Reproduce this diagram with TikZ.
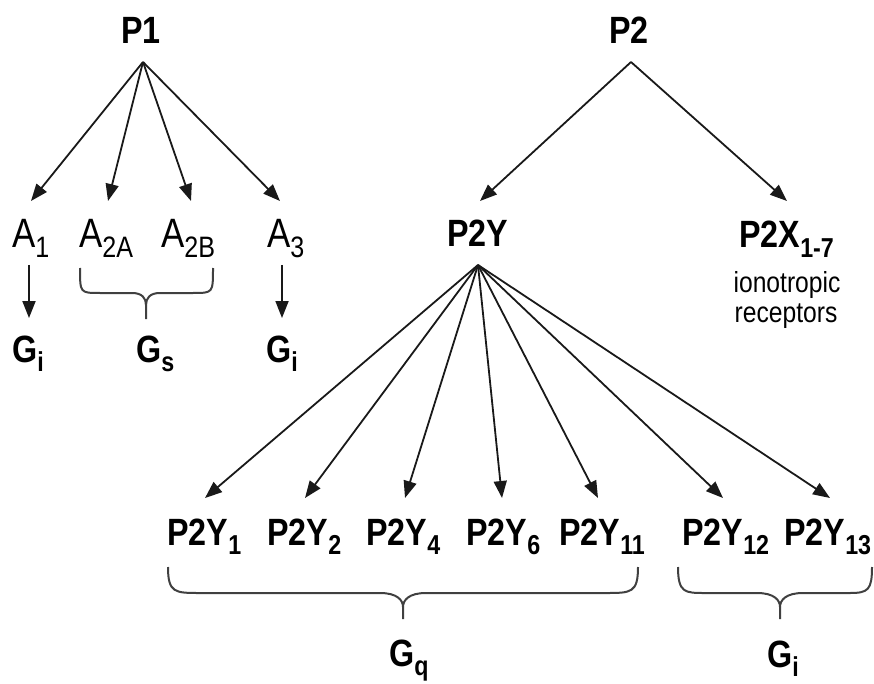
\documentclass[tikz,border=0pt]{standalone}
\usepackage{fontspec}
\setmainfont{Liberation Sans}[FakeStretch=0.85]
\usetikzlibrary{arrows.meta}
\newcommand\sbs[1]{\raisebox{-0.24em}{\scalebox{0.72}{#1}}}
\tikzset{
  arr/.style={draw=black!90, line width=1.8pt, -{Triangle[length=17pt,width=13pt]}},
  brc/.style={draw=black!75, line width=2pt},
  lbl/.style={anchor=base west, inner sep=0pt},
  big/.style={lbl, font=\fontsize{38}{44}\selectfont\bfseries},
  alab/.style={lbl, font=\fontsize{41}{46}\selectfont},
  ylab/.style={lbl, font=\fontsize{38}{44}\selectfont\bfseries},
  glab/.style={lbl, font=\fontsize{38}{44}\selectfont\bfseries},
  small/.style={anchor=base, inner sep=0pt, font=\fontsize{29}{32}\selectfont}
}
\begin{document}
\begin{tikzpicture}[x=1pt, y=-1pt]
\useasboundingbox (0,0) rectangle (874,684);
% top level
\node[big] (P1) at (121,44) {P1};
\node[big] (P2) at (609,44) {P2};
\coordinate (p1apex) at (143,62);
\coordinate (p2apex) at (631,62);
% A receptors
\node[alab] (A1) at (12,248) {A\sbs{1}};
\node[alab] (A2A) at (79,248) {A\sbs{2A}};
\node[alab] (A2B) at (161,248) {A\sbs{2B}};
\node[alab] (A3) at (267,248) {A\sbs{3}};
\coordinate (a1t) at (31,201);
\coordinate (a2at) at (108,201);
\coordinate (a2bt) at (191,201);
\coordinate (a3t) at (280,201);
\draw[arr] (p1apex) -- (a1t);
\draw[arr] (p1apex) -- (a2at);
\draw[arr] (p1apex) -- (a2bt);
\draw[arr] (p1apex) -- (a3t);
% G for A
\node[glab] (G1) at (12,362) {G\sbs{i}};
\node[glab] (Gs) at (136,362) {G\sbs{s}};
\node[glab] (G3) at (266,362) {G\sbs{i}};
\coordinate (a1s) at (29,265);
\coordinate (g1t) at (29,318);
\coordinate (a3s) at (282,265);
\coordinate (g3t) at (282,318);
\draw[arr] (a1s) -- (g1t);
\draw[arr] (a3s) -- (g3t);
\draw[brc] (80,268) .. controls (80,293) and (80,293) .. (100,293) -- (132,293)
  .. controls (142,293) and (146,298) .. (146,305) -- (146,319);
\draw[brc] (146,305) .. controls (146,298) and (150,293) .. (160,293) -- (193,293)
  .. controls (213,293) and (213,293) .. (213,268);
% P2 branch
\node[big] (P2Y) at (447,247) {P2Y};
\node[big] (P2X) at (739,248) {P2X\sbs{1-7}};
\node[small] (iono) at (787,292) {ionotropic};
\node[small] (rec) at (786,322) {receptors};
\coordinate (p2yt) at (480,201);
\coordinate (p2xt) at (787,201);
\draw[arr] (p2apex) -- (p2yt);
\draw[arr] (p2apex) -- (p2xt);
\coordinate (yapex) at (478,265);
% P2Y subtypes
\node[ylab] (Y1) at (167,545) {P2Y\sbs{1}};
\node[ylab] (Y2) at (267,545) {P2Y\sbs{2}};
\node[ylab] (Y4) at (366,545) {P2Y\sbs{4}};
\node[ylab] (Y6) at (466,545) {P2Y\sbs{6}};
\node[ylab] (Y11) at (559,545) {P2Y\sbs{11}};
\node[ylab] (Y12) at (682,545) {P2Y\sbs{12}};
\node[ylab] (Y13) at (784,545) {P2Y\sbs{13}};
\coordinate (y1t) at (205,498);
\coordinate (y2t) at (305,498);
\coordinate (y4t) at (405,498);
\coordinate (y6t) at (502,498);
\coordinate (y11t) at (598,498);
\coordinate (y12t) at (723,498);
\coordinate (y13t) at (830,498);
\foreach \t in {y1t,y2t,y4t,y6t,y11t,y12t,y13t}
  \draw[arr] (yapex) -- (\t);
% braces
\draw[brc] (168,567) .. controls (168,593) and (175,593) .. (200,593) -- (380,593)
  .. controls (397,593) and (403,600) .. (403,607) -- (403,619);
\draw[brc] (403,607) .. controls (403,600) and (409,593) .. (426,593) -- (606,593)
  .. controls (631,593) and (638,593) .. (638,567);
\draw[brc] (678,567) .. controls (678,593) and (685,593) .. (705,593) -- (757,593)
  .. controls (774,593) and (780,600) .. (780,607) -- (780,619);
\draw[brc] (780,607) .. controls (780,600) and (786,593) .. (803,593) -- (850,593)
  .. controls (868,593) and (872,590) .. (872,567);
\node[glab] (Gq) at (389,666) {G\sbs{q}};
\node[glab] (Gi) at (767,667) {G\sbs{i}};
\end{tikzpicture}
\end{document}
